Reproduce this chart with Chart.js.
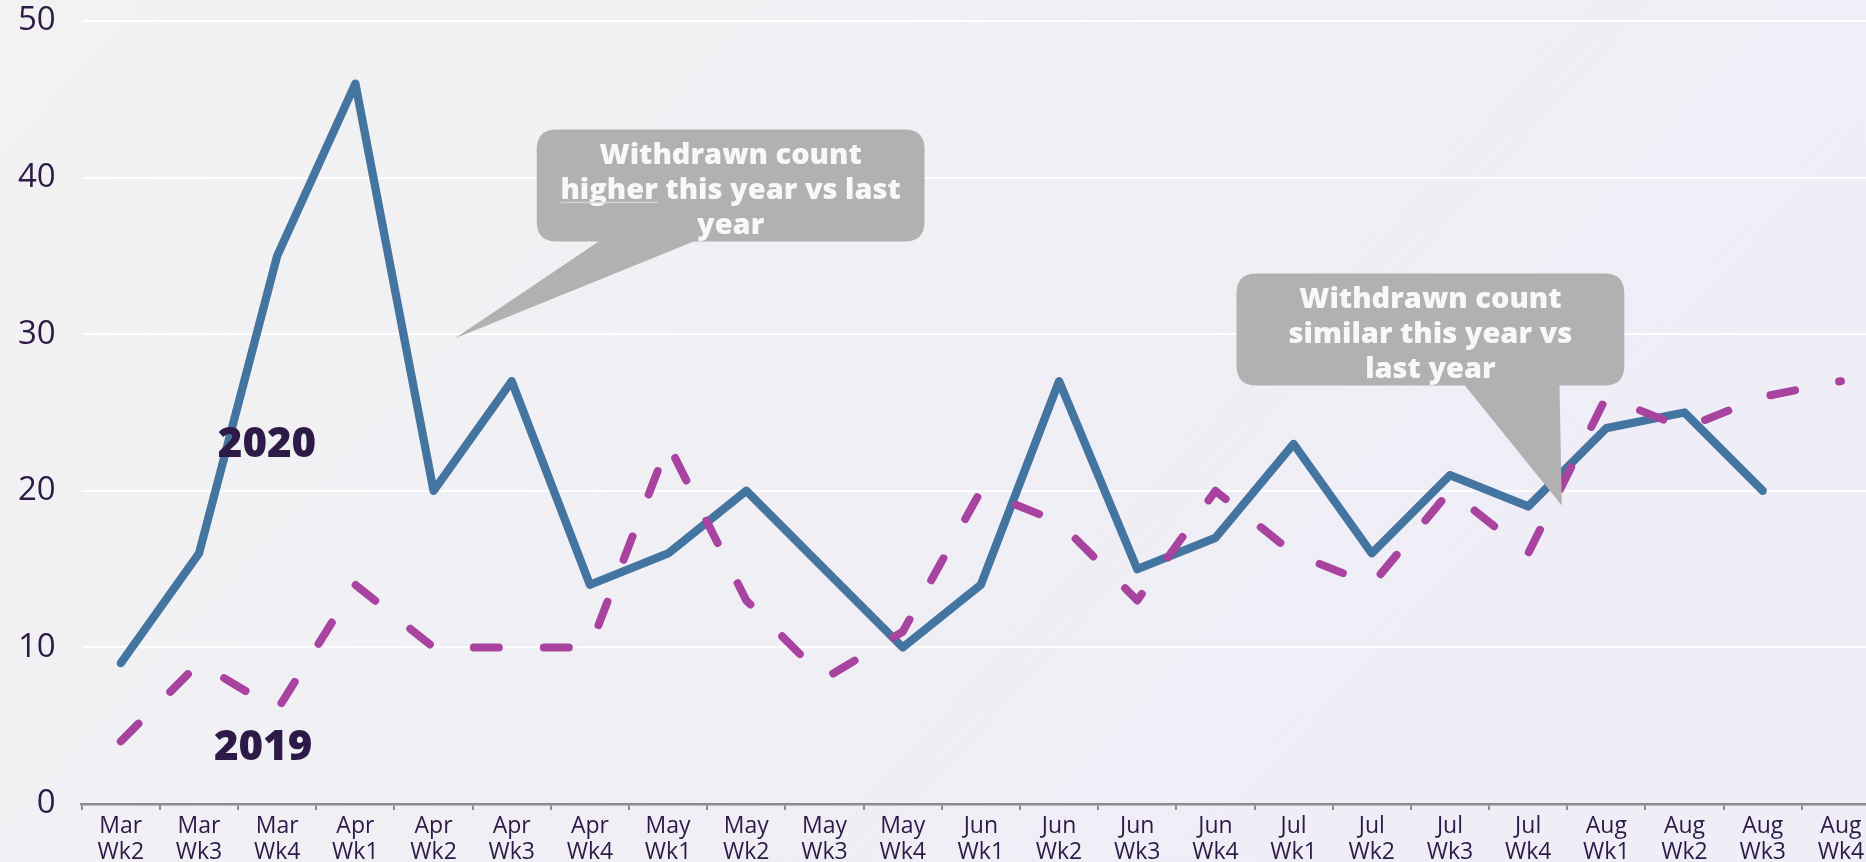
<!DOCTYPE html>
<html><head><meta charset="utf-8">
<script src="https://cdn.jsdelivr.net/npm/chart.js@4"></script>
<style>
html,body{margin:0;padding:0;overflow:hidden;background:#f0eff4;}
canvas{display:block;}
</style></head><body>
<canvas id="c" width="1880" height="862" style="width:1880px;height:862px"></canvas>
<script>
// ---- data ----
const categories = [["Mar","Wk2"],["Mar","Wk3"],["Mar","Wk4"],["Apr","Wk1"],["Apr","Wk2"],["Apr","Wk3"],["Apr","Wk4"],
  ["May","Wk1"],["May","Wk2"],["May","Wk3"],["May","Wk4"],["Jun","Wk1"],["Jun","Wk2"],["Jun","Wk3"],["Jun","Wk4"],
  ["Jul","Wk1"],["Jul","Wk2"],["Jul","Wk3"],["Jul","Wk4"],["Aug","Wk1"],["Aug","Wk2"],["Aug","Wk3"],["Aug","Wk4"]];
const series2020 = [9,16,35,46,20,27,14,16,20,15,10,14,27,15,17,23,16,21,19,24,25,20,null];
const series2019 = [4,9,6,14,10,10,10,23,13,8,11,20,18,13,20,16,14,20,16,26,24,26,27];
const yTicks = [0,10,20,30,40,50];

// ---- annotations (anchored in data units) ----
const seriesLabels = [
  {text:"2020", x:1.87, y:22.9},
  {text:"2019", x:1.82, y:3.55}
];
const callouts = [
  {lines:[[{t:"Withdrawn count"}],[{t:"higher",u:true},{t:" this year vs last"}],[{t:"year"}]],
   box:[5.32,10.28,43.07,35.92], base:[6.15,7.39], tip:[4.27,29.72]},
  {lines:[[{t:"Withdrawn count"}],[{t:"similar this year vs"}],[{t:"last year"}]],
   box:[14.27,19.23,33.87,26.72], base:[17.17,18.40], tip:[18.43,19.06]}
];

const TEXT = '#2e1a47';
const bgPlugin = {
  id:'bg',
  beforeDraw(chart){
    const {ctx, width, height} = chart;
    const g = ctx.createLinearGradient(0,0,width*0.6,height*1.2);
    g.addColorStop(0,'#f2f2f2');
    g.addColorStop(1,'#efedf6');
    ctx.save(); ctx.fillStyle = g; ctx.fillRect(0,0,width,height); ctx.restore();
  }
};
const annoPlugin = {
  id:'anno',
  afterDatasetsDraw(chart){
    const {ctx, scales:{x,y}} = chart;
    ctx.save();
    // series labels
    ctx.fillStyle = TEXT;
    ctx.font = '800 42px "Open Sans"';
    ctx.textAlign = 'center'; ctx.textBaseline = 'middle';
    seriesLabels.forEach(l => ctx.fillText(l.text, x.getPixelForValue(l.x), y.getPixelForValue(l.y)));
    // callouts
    callouts.forEach(c => {
      const L = x.getPixelForValue(c.box[0]), R = x.getPixelForValue(c.box[1]);
      const T = y.getPixelForValue(c.box[2]), B = y.getPixelForValue(c.box[3]);
      const r = 20;
      ctx.fillStyle = '#b0b1b0';
      ctx.beginPath();
      ctx.moveTo(L+r,T); ctx.lineTo(R-r,T); ctx.quadraticCurveTo(R,T,R,T+r);
      ctx.lineTo(R,B-r); ctx.quadraticCurveTo(R,B,R-r,B);
      ctx.lineTo(L+r,B); ctx.quadraticCurveTo(L,B,L,B-r);
      ctx.lineTo(L,T+r); ctx.quadraticCurveTo(L,T,L+r,T);
      ctx.closePath(); ctx.fill();
      ctx.beginPath();
      ctx.moveTo(x.getPixelForValue(c.base[0]), B-2);
      ctx.lineTo(x.getPixelForValue(c.base[1]), B-2);
      ctx.lineTo(x.getPixelForValue(c.tip[0]), y.getPixelForValue(c.tip[1]));
      ctx.closePath(); ctx.fill();
      const cx = (L+R)/2;
      ctx.font = '800 29px "Open Sans"';
      ctx.textBaseline = 'alphabetic'; ctx.textAlign = 'left';
      c.lines.forEach((segs, i) => {
        const base = T + 34 + i*35;
        const total = segs.reduce((s,g)=>s+ctx.measureText(g.t).width,0);
        let sx = cx - total/2;
        segs.forEach(g => {
          const w = ctx.measureText(g.t).width;
          ctx.fillStyle = '#f8f8f8';
          ctx.fillText(g.t, sx, base);
          if (g.u) {
            ctx.strokeStyle = '#d4d4d4'; ctx.lineWidth = 1.5;
            ctx.beginPath(); ctx.moveTo(sx, base+4); ctx.lineTo(sx+w, base+4); ctx.stroke();
          }
          sx += w;
        });
      });
    });
    ctx.restore();
  }
};

new Chart(document.getElementById('c'), {
  type:'line',
  data:{
    labels: categories,
    datasets:[
      {label:'2019', data: series2019, borderColor:'#a943a0', borderWidth:8, borderDash:[25,45],
       borderCapStyle:'round', borderJoinStyle:'round', pointRadius:0, tension:0, fill:false},
      {label:'2020', data: series2020, borderColor:'#4474a0', borderWidth:8.3,
       borderCapStyle:'round', borderJoinStyle:'round', pointRadius:0, tension:0, fill:false}
    ]
  },
  options:{
    responsive:false, animation:false, devicePixelRatio:1,
    layout:{padding:{top:21,right:0,left:0,bottom:0}},
    plugins:{legend:{display:false}, tooltip:{enabled:false}},
    scales:{
      x:{
        offset:true,
        grid:{offset:true, drawOnChartArea:false, drawTicks:true, tickLength:6, color:'#8c8c90', lineWidth:2},
        border:{display:true, color:'#8c8c90', width:2.5},
        ticks:{color:TEXT, font:{family:'"Open Sans"', size:23, weight:'400', lineHeight:1.13}, padding:3, maxRotation:0, autoSkip:false},
        afterFit(s){ s.height = 58; s.paddingLeft = 0; s.paddingRight = 0; }
      },
      y:{
        min:0, max:50,
        afterBuildTicks(s){ s.ticks = yTicks.map(v => ({value:v})); },
        grid:{color:'#ffffff', lineWidth:2, drawTicks:false},
        border:{display:false},
        ticks:{color:TEXT, font:{family:'"Open Sans"', size:33, weight:'400'}, padding:26},
        afterFit(s){ s.width = 81.7; s.paddingTop = 0; s.paddingBottom = 0; }
      }
    }
  },
  plugins:[bgPlugin, annoPlugin]
});
</script>
</body></html>
